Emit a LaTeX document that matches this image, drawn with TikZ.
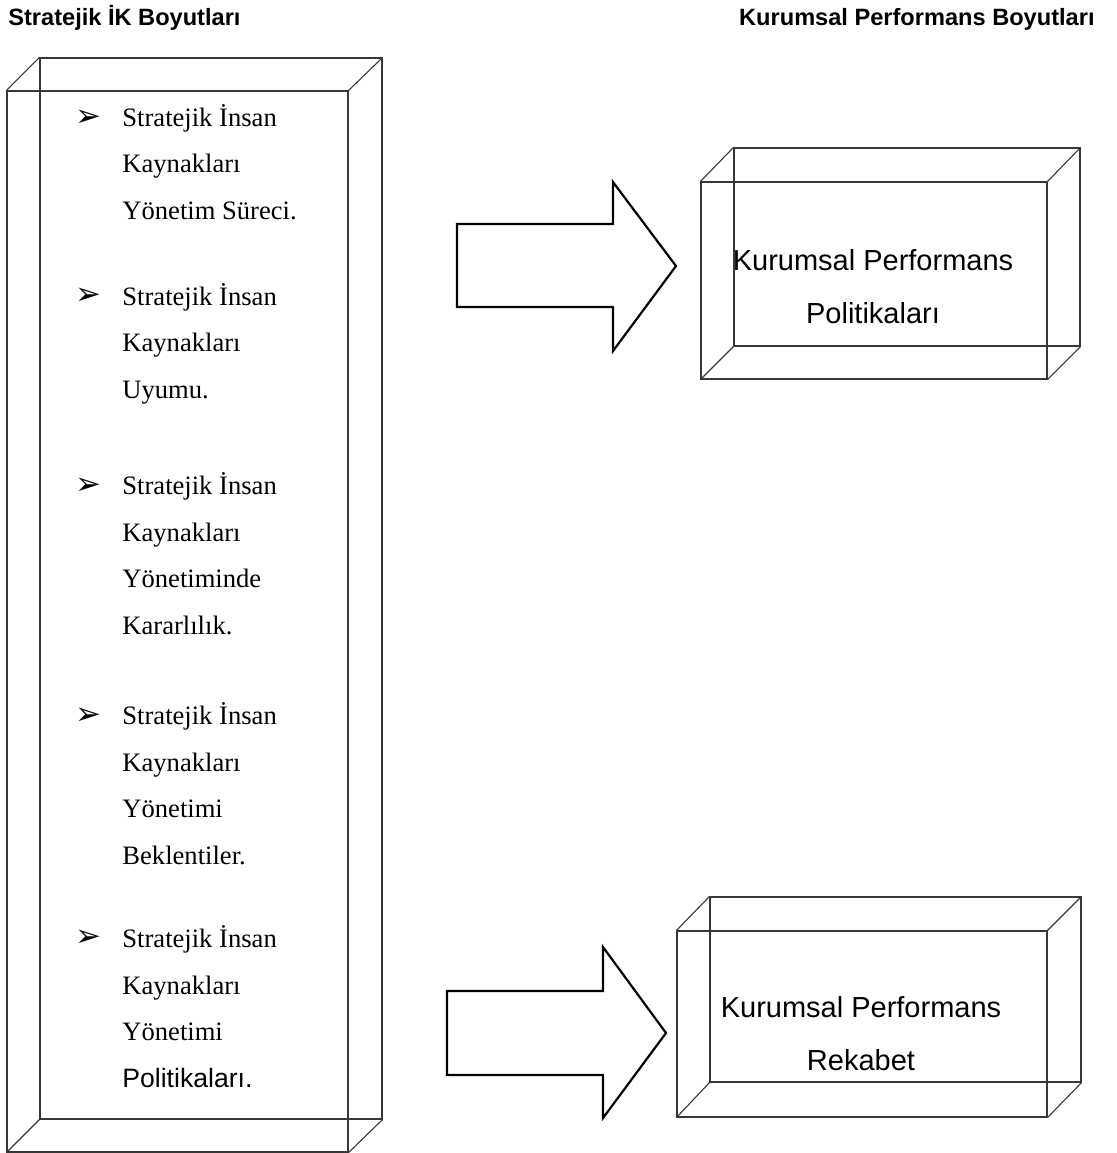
\documentclass[tikz,border=0pt]{standalone}
\usepackage{fontspec}
\setmainfont{Liberation Serif}
\setsansfont{Liberation Sans}
\newfontfamily\bulletfont{DejaVu Sans}
\usepackage{tikz}
\usetikzlibrary{positioning}
\definecolor{edgegray}{RGB}{55,55,55}
\newcommand{\SIK}{Stratejik İnsan\\Kaynakları}
\newcommand{\itembullet}{{\bulletfont\fontsize{15.5}{16}\selectfont ➢}}

\begin{document}
\begin{tikzpicture}[
  x=0.5pt, y=-0.5pt,
  face/.style 2 args={draw=edgegray, line width=0.55pt, inner sep=0pt,
    minimum width=#1*0.5pt, minimum height=#2*0.5pt},
  edge/.style={draw=edgegray, line width=0.55pt},
  blockarrow/.style={draw=black, line width=1.1pt, line join=miter},
  head/.style={font=\sffamily\bfseries\fontsize{11.8}{14}\selectfont, inner sep=0pt},
  itemtxt/.style={anchor=base west, inner sep=0pt, align=left,
    font=\fontsize{13.3}{23.25}\selectfont},
  bul/.style={anchor=base west, inner sep=0pt},
  boxtxt/.style={inner sep=0pt, align=center, anchor=base,
    font=\sffamily\fontsize{14.5}{26.25}\selectfont},
]
\useasboundingbox (0,0) rectangle (1117,1153);

% headings
\node[head, anchor=base west] (hleft) at (8,25) {Stratejik İK Boyutları};
\node[head, anchor=base east] (hright) at (1095,25) {Kurumsal Performans Boyutları};

% left box
\node[face={342}{1061}] (lback) at (211,588.5) {};
\node[face={341}{1061}] (lfront) at (177.5,621.5) {};
\foreach \c in {north west,north east,south west,south east}
  \draw[edge] (lfront.\c) -- (lback.\c);

% list items (nodes sit on the baseline of their last line)
\node[bul] (b1) at (75,126) {\itembullet};
\node[itemtxt] (i1) at (122,219) {\SIK\\Yönetim Süreci.};
\node[bul] (b2) at (75,304) {\itembullet};
\node[itemtxt] (i2) at (122,398) {\SIK\\Uyumu.};
\node[bul] (b3) at (75,494) {\itembullet};
\node[itemtxt] (i3) at (122,634) {\SIK\\Yönetiminde\\Kararlılık.};
\node[bul] (b4) at (75,724) {\itembullet};
\node[itemtxt] (i4) at (122,864) {\SIK\\Yönetimi\\Beklentiler.};
\node[bul] (b5) at (75,946) {\itembullet};
\node[itemtxt] (i5) at (122,1087) {\SIK\\Yönetimi\\{\sffamily Politikaları.}};

% arrows
\draw[blockarrow] (457,224) -- (613,224) -- (613,182) -- (676,266)
  -- (613,351) -- (613,307) -- (457,307) -- cycle;
\draw[blockarrow] (447,991) -- (603,991) -- (603,947) -- (666,1033)
  -- (603,1118) -- (603,1075) -- (447,1075) -- cycle;

% upper right box
\node[face={346}{198}] (pback) at (907,247) {};
\node[face={346}{197}] (pfront) at (874,280.5) {};
\foreach \c in {north west,north east,south west,south east}
  \draw[edge] (pfront.\c) -- (pback.\c);
\node[boxtxt] (ptxt) at (873,323) {Kurumsal Performans\\Politikaları};

% lower right box
\node[face={371}{185}] (rback) at (895.5,989.5) {};
\node[face={370}{186}] (rfront) at (862,1024) {};
\foreach \c in {north west,north east,south west,south east}
  \draw[edge] (rfront.\c) -- (rback.\c);
\node[boxtxt] (rtxt) at (861,1070) {Kurumsal Performans\\Rekabet};
\end{tikzpicture}
\end{document}
